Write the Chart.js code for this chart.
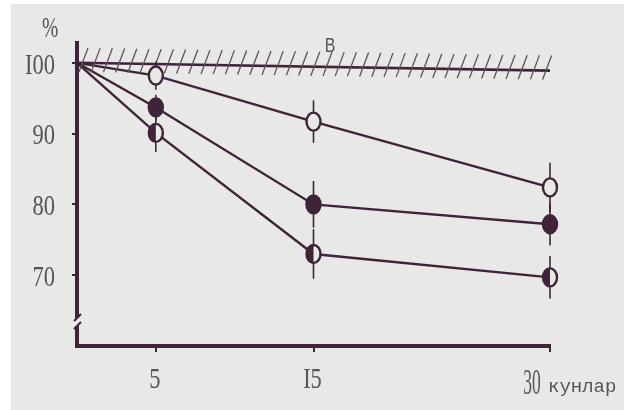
<!DOCTYPE html>
<html>
<head>
<meta charset="utf-8">
<script src="https://cdn.jsdelivr.net/npm/chart.js@4.4.0/dist/chart.umd.min.js"></script>
<style>
  html, body { margin: 0; padding: 0; background: #fff; }
  #chart { display: block; }
</style>
</head>
<body>
<canvas id="chart" width="624" height="410"></canvas>
<script>
const days = [0, 5, 15, 30];
const openVals = [100, 98.2, 91.7, 82.4];
const filledVals = [100, 93.7, 80.0, 77.2];
const halfVals = [100, 90.1, 73.0, 69.7];
const openErr = [0, 2.0, 3.0, 3.5];
const filledErr = [0, 1.8, 3.3, 3.0];
const halfErr = [0, 2.7, 3.5, 3.0];
// control line "В"
const bDays = [0, 30];
const bVals = [100, 98.9];
const bLabel = 'В';
const xTicks = [5, 15, 30];
const xLabels = ['5', 'I5', '30'];
const yTicks = [100, 90, 80, 70];
const yLabels = ['I00', '90', '80', '70'];
const yUnit = '%';
const xUnit = 'кунлар';

const ink = '#3f2439';
const paper = '#e8e8e6';
const textInk = '#58525a';

const pts = (xs, ys) => xs.map((x, i) => ({ x: x, y: ys[i] }));

function lineSet(vals, err, kind) {
    return {
        data: pts(days, vals),
        errs: err,
        kind: kind,
        borderColor: ink,
        borderWidth: 2.4,
        pointRadius: 0,
        tension: 0,
        clip: false
    };
}

// scanned-paper background
const paperBg = {
    id: 'paperBg',
    beforeDraw(chart) {
        const c = chart.ctx;
        c.save();
        c.fillStyle = '#ffffff';
        c.fillRect(0, 0, chart.width, chart.height);
        c.fillStyle = paper;
        c.fillRect(11, 4, chart.width - 11, chart.height - 4);
        c.restore();
    }
};

function ellipse(c, x, y) {
    c.beginPath();
    c.ellipse(x, y, 7, 9, 0, 0, Math.PI * 2);
}

const marks = {
    id: 'marks',
    afterDatasetsDraw(chart) {
        const c = chart.ctx;
        const xs = chart.scales.x, ys = chart.scales.y;
        c.save();
        // hatching along line B
        const b0x = xs.getPixelForValue(bDays[0]), b1x = xs.getPixelForValue(bDays[1]);
        const b0y = ys.getPixelForValue(bVals[0]), b1y = ys.getPixelForValue(bVals[1]);
        c.strokeStyle = '#5e525d';
        c.lineWidth = 1.3;
        for (let x = b0x + 6; x <= b1x + 2; x += 12.2) {
            const y = b0y + (b1y - b0y) * (x - b0x) / (b1x - b0x);
            c.beginPath();
            c.moveTo(x - 4, y + 9);
            c.lineTo(x + 5, y - 15);
            c.stroke();
        }
        // error bars and markers
        chart.data.datasets.forEach((ds, di) => {
            if (!ds.kind) return;
            const meta = chart.getDatasetMeta(di);
            meta.data.forEach((p, i) => {
                if (i === 0) return;
                const v = ds.data[i].y;
                const top = ys.getPixelForValue(v + ds.errs[i]);
                const bot = ys.getPixelForValue(v - ds.errs[i]);
                c.strokeStyle = ink;
                c.lineWidth = 1.6;
                c.beginPath();
                c.moveTo(p.x, top);
                c.lineTo(p.x, bot);
                c.stroke();

                ellipse(c, p.x, p.y);
                c.fillStyle = ds.kind === 'filled' ? ink : paper;
                c.fill();
                if (ds.kind === 'half') {
                    c.save();
                    c.beginPath();
                    c.rect(p.x - 10, p.y - 12, 10, 24);
                    c.clip();
                    ellipse(c, p.x, p.y);
                    c.fillStyle = ink;
                    c.fill();
                    c.restore();
                }
                ellipse(c, p.x, p.y);
                c.lineWidth = 2.4;
                c.strokeStyle = ink;
                c.stroke();
            });
        });
        c.restore();
    }
};

function condensedText(c, txt, x, y, size, squeeze, align, family) {
    c.save();
    c.font = size + 'px ' + (family || '"Liberation Serif"');
    const w = c.measureText(txt).width * squeeze;
    let left = x;
    if (align === 'center') left = x - w / 2;
    if (align === 'right') left = x - w;
    c.translate(left, y);
    c.scale(squeeze, 1);
    c.textAlign = 'left';
    c.textBaseline = 'middle';
    c.fillText(txt, 0, 0);
    c.restore();
}

const labels = {
    id: 'labels',
    afterDraw(chart) {
        const c = chart.ctx;
        const xs = chart.scales.x, ys = chart.scales.y;
        const area = chart.chartArea;
        c.save();
        // axis break on the y axis
        c.fillStyle = paper;
        c.fillRect(area.left - 4, 318, 9, 8);
        c.strokeStyle = ink;
        c.lineWidth = 2;
        c.beginPath();
        c.moveTo(area.left - 3, 321); c.lineTo(area.left + 4, 314);
        c.moveTo(area.left - 3, 329); c.lineTo(area.left + 4, 322);
        c.stroke();

        c.fillStyle = textInk;
        yTicks.forEach((v, i) => {
            condensedText(c, yLabels[i], 55, ys.getPixelForValue(v) + 3, 30, 0.75, 'right');
        });
        xTicks.forEach((v, i) => {
            const px = xs.getPixelForValue(v);
            if (i === xTicks.length - 1) {
                condensedText(c, xLabels[i], px - 18, 385, 35, 0.5, 'center');
            } else {
                condensedText(c, xLabels[i], px - 1, 380, 30, 0.75, 'center');
            }
        });
        condensedText(c, yUnit, 50, 29, 30, 0.65, 'center');

        condensedText(c, xUnit, xs.getPixelForValue(30) - 2, 387, 19, 1, 'left', '"Liberation Mono"');
        condensedText(c, bLabel, xs.getPixelForValue(16.05), 46, 20, 0.8, 'center', '"Liberation Sans"');
        c.restore();
    }
};

new Chart(document.getElementById('chart'), {
    type: 'line',
    data: {
        datasets: [
            {
                data: pts(bDays, bVals),
                borderColor: ink,
                borderWidth: 2.6,
                pointRadius: 0,
                clip: false
            },
            lineSet(openVals, openErr, 'open'),
            lineSet(filledVals, filledErr, 'filled'),
            lineSet(halfVals, halfErr, 'half')
        ]
    },
    options: {
        responsive: false,
        animation: false,
        devicePixelRatio: 1,
        layout: { padding: { top: 43, right: 74, left: 0, bottom: 0 } },
        plugins: {
            legend: { display: false },
            tooltip: { enabled: false }
        },
        scales: {
            x: {
                type: 'linear',
                min: 0,
                max: 30,
                afterBuildTicks: s => { s.ticks = xTicks.map(v => ({ value: v })); },
                afterFit: s => { s.height = 64; },
                ticks: { display: false },
                grid: { drawOnChartArea: false, drawTicks: true, tickLength: 6, color: ink, lineWidth: 2 },
                border: { display: true, color: ink, width: 4 }
            },
            y: {
                min: 60,
                max: 102.8,
                afterBuildTicks: s => { s.ticks = yTicks.map(v => ({ value: v })); },
                afterFit: s => { s.width = 77; },
                ticks: { display: false },
                grid: { drawOnChartArea: false, drawTicks: true, tickLength: 5, color: ink, lineWidth: 2 },
                border: { display: true, color: ink, width: 4 }
            }
        }
    },
    plugins: [paperBg, marks, labels]
});
</script>
</body>
</html>
